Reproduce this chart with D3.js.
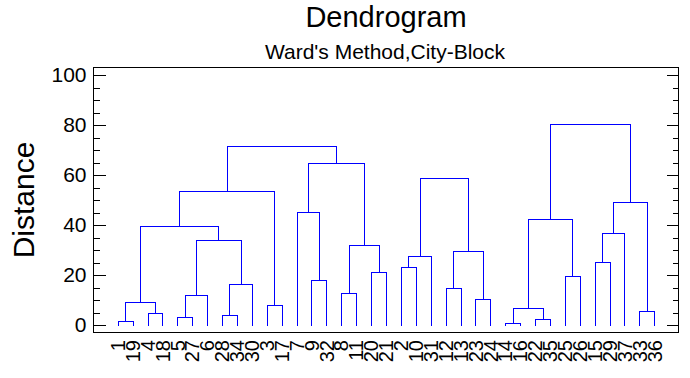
<!DOCTYPE html>
<html>
<head>
<meta charset="utf-8">
<script src="https://cdn.jsdelivr.net/npm/d3@7"></script>
<style>
  body { margin: 0; background: #fff; }
  svg { display: block; font-family: "Liberation Sans", Arial, sans-serif; }
</style>
</head>
<body>
<svg id="chart" width="690" height="378"></svg>
<script>
// leaf labels, left to right
const leafLabels = ["1","19","4","18","5","27","6","28","34","30","3","17","7","9","32","8","11","20","21",
  "2","10","31","12","13","23","24","14","16","22","35","25","26","15","29","37","33","36"];

// merges: [child a, child b, distance]; leaves are 0..36, merged nodes are 37.. in order
const merges = [
  [0, 1, 1.5], [2, 3, 4.7], [37, 38, 9.1], [4, 5, 3.2], [40, 6, 11.9],
  [7, 8, 3.9], [42, 9, 16.3], [41, 43, 33.9], [39, 44, 39.5], [10, 11, 7.9],
  [45, 46, 53.5], [13, 14, 17.9], [12, 48, 45.2], [15, 16, 13.0], [17, 18, 21.1],
  [50, 51, 31.9], [49, 52, 64.7], [47, 53, 71.6],
  [19, 20, 23.1], [55, 21, 27.5], [22, 23, 14.7], [24, 25, 10.3], [57, 58, 29.5], [56, 59, 58.7],
  [26, 27, 0.7], [28, 29, 2.3], [61, 62, 6.7], [30, 31, 19.5], [63, 64, 42.3],
  [32, 33, 25.1], [66, 34, 36.7], [35, 36, 5.5], [67, 68, 49.1], [65, 69, 80.3]
];

const yTickValues = [0, 20, 40, 60, 80, 100];
const yMinorValues = [5, 10, 15, 25, 30, 35, 45, 50, 55, 65, 70, 75, 85, 90, 95];

// layout
const frame = { left: 93, right: 678, top: 67, bottom: 332 };
const svg = d3.select("#chart");

const x = d3.scaleLinear().domain([0, leafLabels.length - 1]).range([117.7, 654.3]);
const y = d3.scaleLinear().domain([0, 100]).range([325, 75]);
const px = v => Math.round(v) + 0.5;

// titles
svg.append("text").attr("x", 386).attr("y", 27).attr("text-anchor", "middle")
  .style("font-size", "29px").text("Dendrogram");
svg.append("text").attr("x", 385).attr("y", 59).attr("text-anchor", "middle")
  .style("font-size", "21px").text("Ward's Method,City-Block");
svg.append("text").attr("transform", "translate(34,200) rotate(-90)").attr("text-anchor", "middle")
  .style("font-size", "30px").text("Distance");

// dendrogram links
const nodes = leafLabels.map((d, i) => ({ x: i, h: 0 }));
const links = [];
merges.forEach(([a, b, h]) => {
  const na = nodes[a], nb = nodes[b];
  links.push([[na.x, na.h], [na.x, h], [nb.x, h], [nb.x, nb.h]]);
  nodes.push({ x: (na.x + nb.x) / 2, h: h });
});

const line = d3.line().x(d => px(x(d[0]))).y(d => px(y(d[1])));
svg.append("g").selectAll("path").data(links).enter().append("path")
  .attr("d", line)
  .attr("fill", "none")
  .attr("stroke", "#0000ff")
  .attr("stroke-width", 1)
  .attr("shape-rendering", "crispEdges");

// frame
svg.append("rect")
  .attr("x", frame.left + 0.5).attr("y", frame.top + 0.5)
  .attr("width", frame.right - frame.left).attr("height", frame.bottom - frame.top)
  .attr("fill", "none").attr("stroke", "#000").attr("shape-rendering", "crispEdges");

// left axis (ticks point inward)
const leftAxis = d3.axisLeft(y).tickValues(yTickValues).tickSize(-12).tickPadding(7).tickFormat(d3.format("d"));
const gl = svg.append("g").attr("transform", `translate(${frame.left + 0.5},0)`).call(leftAxis);
gl.select(".domain").remove();
gl.selectAll("text").style("font-size", "21px").attr("fill", "#000");
gl.selectAll("line").attr("shape-rendering", "crispEdges");
const glm = svg.append("g").attr("transform", `translate(${frame.left + 0.5},0)`)
  .call(d3.axisLeft(y).tickValues(yMinorValues).tickSize(-6).tickFormat(""));
glm.select(".domain").remove();
glm.selectAll("line").attr("shape-rendering", "crispEdges");

// right axis
const gr = svg.append("g").attr("transform", `translate(${frame.right + 0.5},0)`)
  .call(d3.axisRight(y).tickValues(yTickValues).tickSize(-12).tickFormat(""));
gr.select(".domain").remove();
gr.selectAll("line").attr("shape-rendering", "crispEdges");
const grm = svg.append("g").attr("transform", `translate(${frame.right + 0.5},0)`)
  .call(d3.axisRight(y).tickValues(yMinorValues).tickSize(-6).tickFormat(""));
grm.select(".domain").remove();
grm.selectAll("line").attr("shape-rendering", "crispEdges");

// leaf labels, rotated
svg.append("g").selectAll("text").data(leafLabels).enter().append("text")
  .attr("transform", (d, i) => `translate(${x(i)},340) rotate(-90)`)
  .attr("text-anchor", "end")
  .attr("dy", "0.36em")
  .style("font-size", "20px")
  .text(d => d);
</script>
</body>
</html>
